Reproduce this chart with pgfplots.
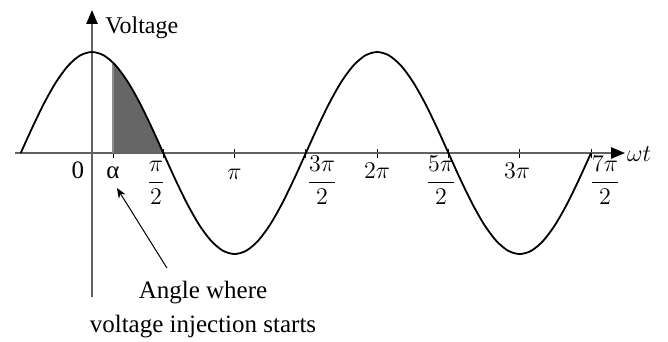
\documentclass[border=0pt]{standalone}
\usepackage[no-math]{fontspec}
\setmainfont{Liberation Serif}
\usepackage{amsmath}
\usepackage{pgfplots}
\pgfplotsset{compat=1.18}
\usetikzlibrary{arrows.meta}

\tikzset{lbl/.style={font=\fontsize{12.5}{15}\selectfont, inner sep=0pt}}

% x is measured in steps of pi/12, so pi/2 = 6 and 2pi = 24
\begin{document}
\begin{tikzpicture}
\begin{axis}[
  x=5.94pt, y=50.5pt,
  xmin=-6.48, xmax=44.87, ymin=-1.426, ymax=1.416,
  axis lines=middle,
  axis line style={draw=black!62, line width=1.2pt},
  x axis line style={-{Triangle[length=7pt,width=5.5pt,color=black]}},
  y axis line style={-{Triangle[length=7pt,width=5.5pt,color=black]}},
  xtick={1.77,6,12,18,24,30,36,42},
  xticklabels={,,,,,,,},
  ytick=\empty,
  tick align=center,
  major tick length=4.5pt,
  tick style={black, line width=0.5pt},
  clip=false,
]
% page frame
\path (axis cs:-7.744,-1.861) rectangle (axis cs:48.48,1.515);

% region from alpha to pi/2 under the curve
\addplot[draw=none, fill=black!60] coordinates {
  (1.77,0) (1.77,0.8946) (2,0.8660) (2.5,0.7934) (3,0.7071) (3.5,0.6088)
  (4,0.5) (4.5,0.3827) (5,0.2588) (5.5,0.1305) (6,0)
} \closedcycle;
\addplot[black!45, line width=0.8pt] coordinates {(1.77,0) (1.77,0.8946)};

% supply voltage
\addplot[black, line width=0.9pt, smooth] coordinates {
  (-6,0) (-5,0.2588) (-4,0.5) (-3,0.7071) (-2,0.8660) (-1,0.9659)
  (0,1) (1,0.9659) (2,0.8660) (3,0.7071) (4,0.5) (5,0.2588)
  (6,0) (7,-0.2588) (8,-0.5) (9,-0.7071) (10,-0.8660) (11,-0.9659)
  (12,-1) (13,-0.9659) (14,-0.8660) (15,-0.7071) (16,-0.5) (17,-0.2588)
  (18,0) (19,0.2588) (20,0.5) (21,0.7071) (22,0.8660) (23,0.9659)
  (24,1) (25,0.9659) (26,0.8660) (27,0.7071) (28,0.5) (29,0.2588)
  (30,0) (31,-0.2588) (32,-0.5) (33,-0.7071) (34,-0.8660) (35,-0.9659)
  (36,-1) (37,-0.9659) (38,-0.8660) (39,-0.7071) (40,-0.5) (41,-0.2588)
  (42,0)
};

% tick labels
\node[lbl, anchor=base] at (axis cs:-1.18,-0.248) {0};
\node[lbl, anchor=base] at (axis cs:1.77,-0.248) {α};
\node[lbl, anchor=base] at (axis cs:5.39,-0.347) {$\dfrac{\pi}{2}$};
\node[lbl, anchor=base] at (axis cs:12,-0.267) {$\pi$};
\node[lbl, anchor=base] at (axis cs:19.36,-0.347) {$\dfrac{3\pi}{2}$};
\node[lbl, anchor=base] at (axis cs:23.99,-0.257) {$2\pi$};
\node[lbl, anchor=base] at (axis cs:29.38,-0.347) {$\dfrac{5\pi}{2}$};
\node[lbl, anchor=base] at (axis cs:35.77,-0.257) {$3\pi$};
\node[lbl, anchor=base] at (axis cs:43.18,-0.347) {$\dfrac{7\pi}{2}$};

% axis names
\node[lbl, anchor=base west] at (axis cs:45.0,-0.08) {$\omega t$};
\node[lbl, anchor=base west, font=\fontsize{12}{14}\selectfont] at (axis cs:1.09,1.188) {Voltage};

% annotation
\draw[black, line width=0.5pt, -{Stealth[length=5pt,width=4pt]}]
  (axis cs:6.31,-1.139) -- (axis cs:2.10,-0.347);
\node[lbl, anchor=base] at (axis cs:9.34,-1.436) {Angle where};
\node[lbl, anchor=base] at (axis cs:9.34,-1.772) {voltage injection starts};
\end{axis}
\end{tikzpicture}
\end{document}
